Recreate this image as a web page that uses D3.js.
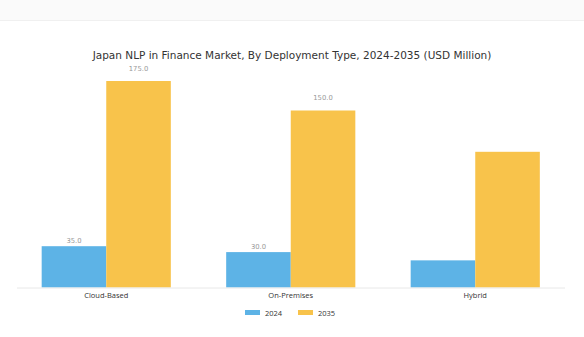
<!DOCTYPE html>
<html><head><meta charset="utf-8">
<script src="https://cdn.jsdelivr.net/npm/d3@7"></script>
<style>body{margin:0;background:#fff}svg{display:block}</style>
</head><body>
<svg id="c" width="584" height="337"></svg>
<script>
const categories = ["Cloud-Based", "On-Premises", "Hybrid"];
const seriesNames = ["2024", "2035"];
const values2024 = [35, 30, 23];
const values2035 = [175, 150, 115];
const labels2024 = ["35.0", "30.0", null];
const labels2035 = ["175.0", "150.0", null];
const colors = ["#5DB3E6", "#F8C34B"];

const svg = d3.select("#c");
svg.append("rect").attr("x",0).attr("y",0).attr("width",584).attr("height",20).attr("fill","#fafafa");
svg.append("line").attr("x1",0).attr("x2",584).attr("y1",20.5).attr("y2",20.5).attr("stroke","#f0f0f0");

svg.append("text").attr("x",292).attr("y",59).attr("text-anchor","middle")
  .attr("font-family","DejaVu Sans, sans-serif").attr("font-size",10.5).attr("fill","#333")
  .text("Japan NLP in Finance Market, By Deployment Type, 2024-2035 (USD Million)");

const x0 = d3.scaleBand().domain(categories).range([14, 567.5]).paddingInner(0.3).paddingOuter(0.15);
const x1 = d3.scaleBand().domain(seriesNames).range([0, x0.bandwidth()]);
const y = d3.scaleLinear().domain([0, 175]).range([287.5, 81]);

const data = categories.map((c,i)=>({cat:c, vals:[
  {s:"2024", v:values2024[i], l:labels2024[i]},
  {s:"2035", v:values2035[i], l:labels2035[i]}]}));
const labelGap = {"2024": 3.5, "2035": 10.5};

const g = svg.append("g");
const grp = g.selectAll("g").data(data).join("g").attr("transform", d=>`translate(${x0(d.cat)},0)`);
grp.selectAll("rect").data(d=>d.vals).join("rect")
  .attr("x", d=>x1(d.s)).attr("width", x1.bandwidth())
  .attr("y", d=>y(d.v)).attr("height", d=>y(0)-y(d.v))
  .attr("fill", (d,i)=>colors[i]);
grp.selectAll("text").data(d=>d.vals.filter(v=>v.l)).join("text")
  .attr("x", d=>x1(d.s)+x1.bandwidth()/2).attr("y", d=>y(d.v)-labelGap[d.s])
  .attr("text-anchor","middle").attr("font-family","DejaVu Sans, sans-serif")
  .attr("font-size",6.8).attr("fill","#999").text(d=>d.l);

svg.append("line").attr("x1",17).attr("x2",565).attr("y1",288).attr("y2",288)
  .attr("stroke","#e8e8e8").attr("stroke-width",1);

const ax = svg.append("g").attr("transform","translate(0,288)")
  .call(d3.axisBottom(x0).tickSize(0).tickPadding(4.5));
ax.select(".domain").remove();
ax.selectAll("text").attr("font-family","Open Sans, sans-serif").attr("font-size",7.5).attr("fill","#333");

const leg = svg.append("g");
const legX = [245, 298];
seriesNames.forEach((s,i)=>{
  leg.append("rect").attr("x",legX[i]).attr("y",310).attr("width",15).attr("height",5).attr("fill",colors[i]);
  leg.append("text").attr("x",legX[i]+20).attr("y",315.5).attr("font-family","Open Sans, sans-serif")
    .attr("font-size",7.5).attr("fill","#333").text(s);
});
</script>
</body></html>
